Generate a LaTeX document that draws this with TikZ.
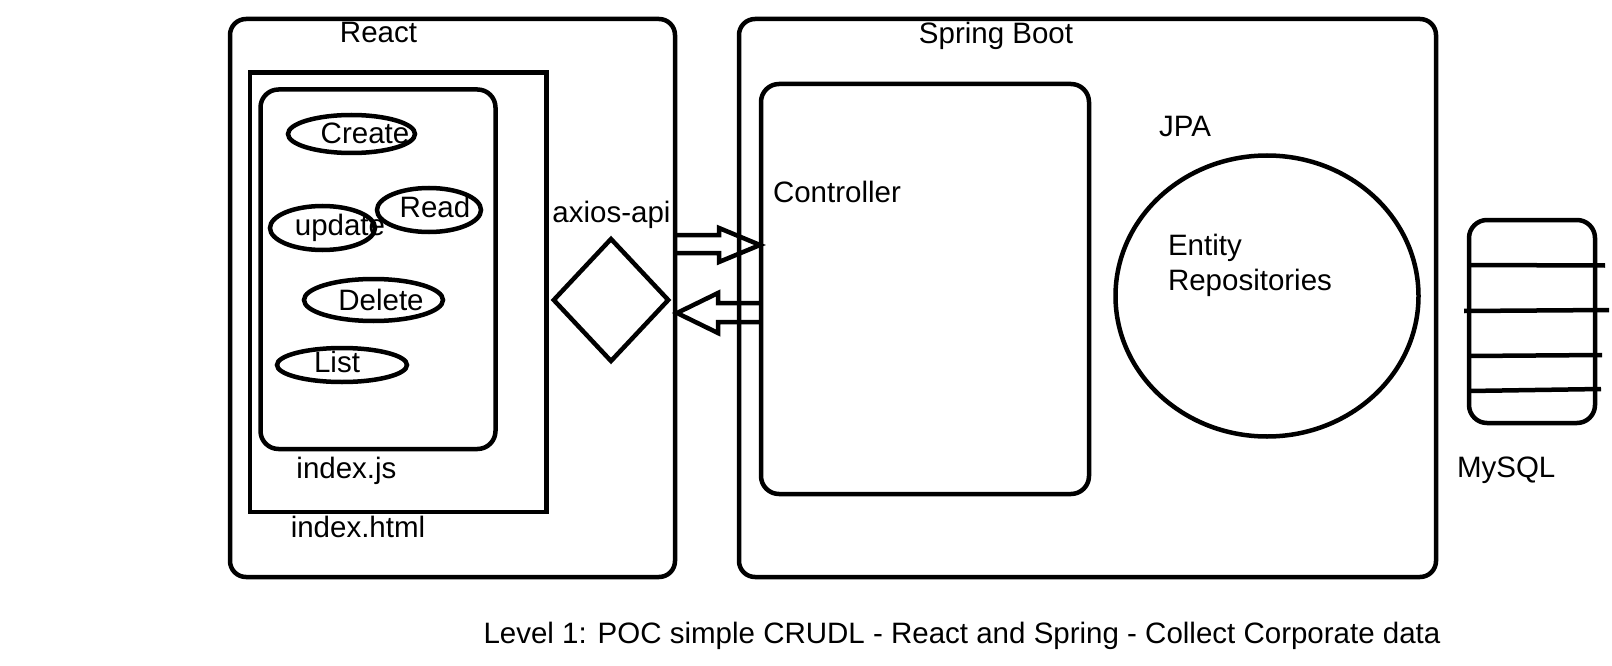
\documentclass[tikz,border=0pt]{standalone}
\usepackage{fontspec}
\setmainfont{Liberation Sans}
\usetikzlibrary{shapes.geometric}
\newcommand{\lblfont}{\fontsize{29.5}{35}\selectfont}
\begin{document}
\begin{tikzpicture}[x=1pt,y=-1pt,
  every node/.style={inner sep=0pt, outer sep=0pt},
  ln/.style={draw=black, line width=4.5pt},
  rbox/.style={ln, rounded corners=16pt},
  sbox/.style={ln},
  oval/.style={ln, ellipse},
  txt/.style={font=\lblfont, text height=21pt, text depth=0pt},
  blockarrow/.style={ln, line join=miter}
]
\useasboundingbox (0,0) rectangle (1612,666);
\fill[white] (0,0) rectangle (1612,666);

% React side
\node[rbox, minimum width=445pt, minimum height=558pt] (react) at (452.5,298) {};
\node[txt] (reactlbl) at (378.5,32) {React};
\node[sbox, minimum width=296.5pt, minimum height=439.5pt] (html) at (398.25,292.25) {};
\node[txt] (htmllbl) at (358,527) {index.html};
\node[rbox, rounded corners=18pt, minimum width=235pt, minimum height=359.5pt] (js) at (378,269.25) {};
\node[txt] (jslbl) at (346.5,468) {index.js};

\node[oval, minimum width=127pt, minimum height=38pt] (eCreate) at (351.5,134) {};
\node[txt] (tCreate) at (365,133.5) {Create};
\node[oval, minimum width=104pt, minimum height=44pt] (eRead) at (429,210) {};
\node[txt] (tRead) at (435,207) {Read};
\node[oval, minimum width=105pt, minimum height=44pt] (eUpdate) at (322.5,228) {};
\node[txt] (tUpdate) at (340,225) {update};
\node[oval, minimum width=139pt, minimum height=42pt] (eDelete) at (373.5,300) {};
\node[txt] (tDelete) at (381,300) {Delete};
\node[oval, minimum width=130pt, minimum height=34pt] (eList) at (342,365) {};
\node[txt] (tList) at (337,362) {List};

% axios
\node[ln, diamond, minimum width=114.5pt, minimum height=122pt] (axios) at (611,300) {};
\node[txt] (axioslbl) at (611.5,212) {axios-api};

% Spring side
\node[rbox, minimum width=697pt, minimum height=558pt] (spring) at (1087.5,298) {};
\node[txt] (springlbl) at (996,33) {Spring Boot};
\node[rbox, rounded corners=18pt, minimum width=328pt, minimum height=410pt] (ctrl) at (925,289) {};
\node[txt, anchor=west] (ctrllbl) at (773,192) {Controller};
\node[txt] (jpalbl) at (1185,126.5) {JPA};
\node[oval, minimum width=303pt, minimum height=281pt] (jpa) at (1267,296) {};
\node[txt, anchor=west] (entlbl) at (1168,245) {Entity};
\node[txt, anchor=west] (replbl) at (1168,280) {Repositories};

% arrows
\coordinate (a1tail) at (675,244);
\coordinate (a1tip) at (760,245);
\draw[blockarrow] (a1tail |- 0,235) -- (719,235) -- (719,228) -- (a1tip) -- (719,262) -- (719,253) -- (a1tail |- 0,253);
\coordinate (a2tail) at (761,312.5);
\coordinate (a2tip) at (677,313);
\draw[blockarrow] (a2tail |- 0,303) -- (718,303) -- (718,293) -- (a2tip) -- (718,333) -- (718,322) -- (a2tail |- 0,322);

% MySQL
\node[rbox, rounded corners=18pt, minimum width=126pt, minimum height=203pt] (db) at (1532,321.5) {};
\draw[ln] (db.west |- 0,265) -- (1605,265.5);
\draw[ln] (1464,311) -- (1609,310);
\draw[ln] (db.west |- 0,356) -- (1602,355);
\draw[ln] (db.west |- 0,391) -- (1601,389);
\node[txt, anchor=west] (dblbl) at (1457,467) {MySQL};

% caption
\node[txt] (caption) at (962,633) {Level 1: POC simple CRUDL - React and Spring - Collect Corporate data};
\end{tikzpicture}
\end{document}
